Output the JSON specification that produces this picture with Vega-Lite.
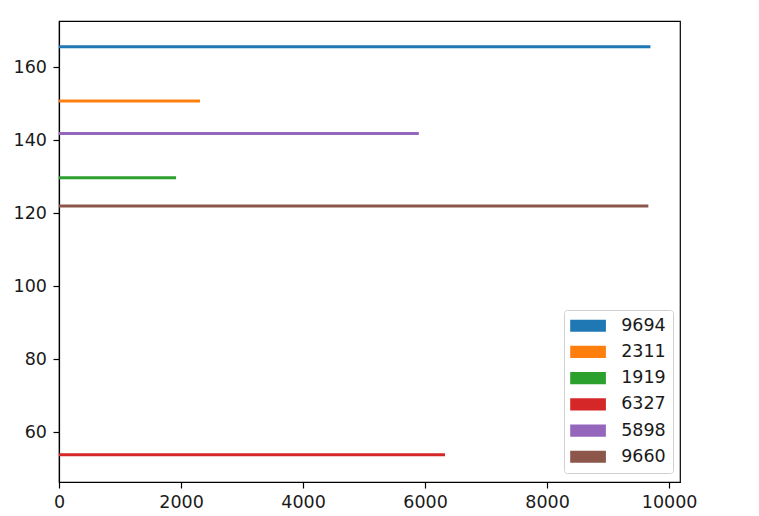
{
  "$schema": "https://vega.github.io/schema/vega-lite/v6.json",
  "width": 621,
  "height": 461,
  "autosize": {"type": "none"},
  "padding": {"left": 59, "top": 21, "right": 79, "bottom": 34},
  "background": "white",
  "config": {
    "view": {"stroke": "black", "strokeWidth": 1.2},
    "font": "DejaVu Sans",
    "axis": {
      "grid": false,
      "domainColor": "black",
      "domainWidth": 1.2,
      "tickColor": "black",
      "tickWidth": 1.2,
      "tickSize": 6,
      "labelColor": "#1a1a1a",
      "labelFont": "DejaVu Sans",
      "labelFontSize": 17.5,
      "format": "d",
      "title": null
    }
  },
  "data": {
    "values": [
      {"pos": 165.6, "width": 9694, "label": "9694"},
      {"pos": 150.7, "width": 2311, "label": "2311"},
      {"pos": 129.7, "width": 1919, "label": "1919"},
      {"pos": 53.8, "width": 6327, "label": "6327"},
      {"pos": 141.8, "width": 5898, "label": "5898"},
      {"pos": 121.9, "width": 9660, "label": "9660"}
    ]
  },
  "mark": {"type": "bar", "size": 3, "orient": "horizontal"},
  "encoding": {
    "x": {
      "field": "width",
      "type": "quantitative",
      "stack": null,
      "scale": {"domain": [0, 10178.7], "nice": false, "zero": true},
      "axis": {"values": [0, 2000, 4000, 6000, 8000, 10000], "labelFlush": false, "labelPadding": 5, "format": "d"}
    },
    "y": {
      "field": "pos",
      "type": "quantitative",
      "scale": {"domain": [47.67, 171.26], "nice": false, "zero": false},
      "axis": {"values": [60, 80, 100, 120, 140, 160], "labelFlush": false, "labelPadding": 6.5, "format": "d"}
    },
    "color": {
      "field": "label",
      "type": "nominal",
      "scale": {
        "domain": ["9694", "2311", "1919", "6327", "5898", "9660"],
        "range": ["#1f77b4", "#ff7f0e", "#2ca02c", "#d62728", "#9467bd", "#8c564b"]
      },
      "legend": {
        "title": null,
        "orient": "none",
        "legendX": 505,
        "legendY": 289,
        "padding": 7,
        "fillColor": "white",
        "strokeColor": "#d0d0d0",
        "cornerRadius": 3,
        "symbolType": "M-2.1,-0.72L2.1,-0.72L2.1,0.72L-2.1,0.72Z",
        "symbolSize": 289,
        "symbolOffset": 8.3,
        "symbolStrokeWidth": 0,
        "symbolOpacity": 1,
        "labelFont": "DejaVu Sans",
        "labelFontSize": 17.5,
        "labelColor": "#1a1a1a",
        "labelOffset": 24.4,
        "rowPadding": 7.2
      }
    }
  }
}
